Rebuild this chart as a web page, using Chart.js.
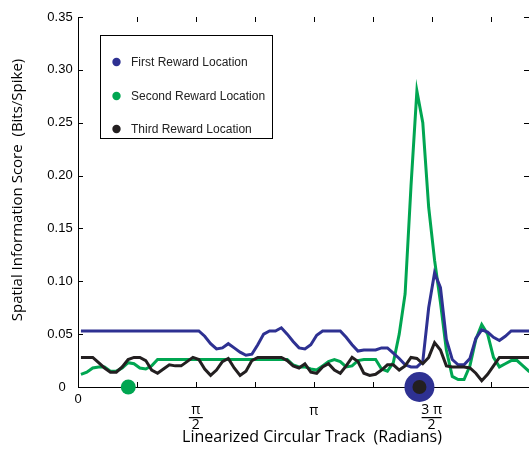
<!DOCTYPE html>
<html>
<head>
<meta charset="utf-8">
<script src="https://cdn.jsdelivr.net/npm/chart.js@4.4.0/dist/chart.umd.min.js"></script>
<style>
	html, body { margin: 0; padding: 0; background: #fff; overflow: hidden; }
	#wrap { width: 529px; height: 449px; }
</style>
</head>
<body>
<div id="wrap"><canvas id="si-chart" width="529" height="449"></canvas></div>
<script>
	'use strict';

	// 80 angular bins over the circular track (0 .. 2 pi)
	var binCount = 80;
	var xMax = 6.01;

	var seriesLabels = ['First Reward Location', 'Second Reward Location', 'Third Reward Location'];
	var seriesColors = ['#2E3192', '#00A651', '#231F20'];

	var firstReward = [
		0.053, 0.053, 0.053, 0.053, 0.053, 0.053, 0.053, 0.053, 0.053, 0.053,
		0.053, 0.053, 0.053, 0.053, 0.053, 0.053, 0.053, 0.053, 0.053, 0.053,
		0.053, 0.048, 0.041, 0.036, 0.037, 0.041, 0.037, 0.033, 0.030, 0.031,
		0.040, 0.050, 0.053, 0.053, 0.056, 0.050, 0.043, 0.037, 0.036, 0.040,
		0.049, 0.053, 0.053, 0.053, 0.053, 0.047, 0.040, 0.034, 0.035, 0.035,
		0.035, 0.037, 0.037, 0.032, 0.027, 0.021, 0.019, 0.019, 0.024, 0.075,
		0.108, 0.094, 0.045, 0.026, 0.021, 0.021, 0.027, 0.046, 0.054, 0.052,
		0.047, 0.044, 0.048, 0.053, 0.053, 0.053, 0.053, 0.053, 0.053, 0.053
	];
	var secondReward = [
		0.012, 0.014, 0.018, 0.019, 0.019, 0.015, 0.015, 0.018, 0.023, 0.022,
		0.018, 0.017, 0.020, 0.026, 0.026, 0.026, 0.026, 0.026, 0.026, 0.026,
		0.026, 0.026, 0.026, 0.026, 0.026, 0.026, 0.026, 0.026, 0.026, 0.026,
		0.026, 0.026, 0.026, 0.026, 0.026, 0.026, 0.021, 0.019, 0.019, 0.017,
		0.016, 0.020, 0.024, 0.026, 0.024, 0.019, 0.020, 0.025, 0.026, 0.026,
		0.026, 0.017, 0.015, 0.023, 0.050, 0.088, 0.190, 0.280, 0.250, 0.170,
		0.120, 0.080, 0.035, 0.010, 0.007, 0.007, 0.020, 0.045, 0.059, 0.050,
		0.028, 0.019, 0.022, 0.025, 0.025, 0.020, 0.015, 0.012, 0.012, 0.012
	];
	var thirdReward = [
		0.028, 0.028, 0.028, 0.023, 0.018, 0.014, 0.014, 0.019, 0.026, 0.028,
		0.028, 0.025, 0.016, 0.013, 0.017, 0.021, 0.020, 0.020, 0.024, 0.028,
		0.026, 0.017, 0.011, 0.016, 0.024, 0.027, 0.018, 0.011, 0.015, 0.025,
		0.028, 0.028, 0.028, 0.028, 0.028, 0.025, 0.020, 0.018, 0.022, 0.014,
		0.013, 0.019, 0.022, 0.016, 0.013, 0.020, 0.028, 0.024, 0.013, 0.011,
		0.012, 0.016, 0.021, 0.021, 0.016, 0.020, 0.028, 0.027, 0.022, 0.028,
		0.042, 0.035, 0.020, 0.019, 0.019, 0.019, 0.018, 0.013, 0.006, 0.012,
		0.020, 0.028, 0.028, 0.028, 0.028, 0.028, 0.028, 0.028, 0.028, 0.028
	];

	// where each reward sat on the track (radians), and marker size
	var rewardAngles = [4.55, 0.67, 4.55];
	var rewardRadius = [15, 7.5, 7];

	var yTicks = [0, 0.05, 0.10, 0.15, 0.20, 0.25, 0.30, 0.35];
	var xTickValues = [0, Math.PI / 2, Math.PI, 3 * Math.PI / 2];
	var xTickNumerators = ['0', 'π', 'π', '3 π'];
	var xTickDenominators = ['', '2', '', '2'];

	var tickFont = '13px "Liberation Sans", Arial, sans-serif';

	function toPoints(values) {
		var binWidth = 2 * Math.PI / binCount;
		return values.map(function (v, i) {
			return { x: (i + 0.5) * binWidth, y: v };
		});
	}

	var lineSets = [firstReward, secondReward, thirdReward].map(function (values, k) {
		return {
			label: seriesLabels[k],
			data: toPoints(values),
			borderColor: seriesColors[k],
			borderWidth: 3,
			pointRadius: 0,
			tension: 0,
			fill: false,
			order: [2, 3, 1][k]
		};
	});

	// big blue, green, then small black on top
	var markerSets = [0, 1, 2].map(function (k) {
		return {
			type: 'scatter',
			label: seriesLabels[k] + ' marker',
			data: [{ x: rewardAngles[k], y: 0 }],
			pointRadius: rewardRadius[k],
			pointBackgroundColor: seriesColors[k],
			pointBorderWidth: 0,
			showLine: false,
			clip: false,
			order: k === 2 ? -2 : -1
		};
	});

	var framePlugin = {
		id: 'frame',
		beforeDatasetsDraw: function (chart) {
			var ctx = chart.ctx;
			var area = chart.chartArea;
			var xs = chart.scales.x;
			var ys = chart.scales.y;
			ctx.save();
			ctx.strokeStyle = '#000';
			ctx.lineWidth = 1;
			ctx.beginPath();
			for (var q = 0; q * Math.PI / 4 <= xMax; q++) {
				var px = Math.round(xs.getPixelForValue(q * Math.PI / 4)) + 0.5;
				ctx.moveTo(px, area.bottom);
				ctx.lineTo(px, area.bottom - 5);
				ctx.moveTo(px, area.top);
				ctx.lineTo(px, area.top + 5);
			}
			yTicks.forEach(function (v) {
				var py = Math.round(ys.getPixelForValue(v)) + 0.5;
				ctx.moveTo(area.left, py);
				ctx.lineTo(area.left + 5, py);
				ctx.moveTo(area.right, py);
				ctx.lineTo(area.right - 5, py);
			});
			ctx.stroke();
			ctx.restore();
		},
		afterDatasetsDraw: function (chart) {
			var ctx = chart.ctx;
			var area = chart.chartArea;
			var xs = chart.scales.x;
			var ys = chart.scales.y;
			ctx.save();
			ctx.fillStyle = '#000';

			// y tick labels
			ctx.font = tickFont;
			ctx.textAlign = 'center';
			ctx.textBaseline = 'middle';
			yTicks.forEach(function (v) {
				var label = v === 0 ? '0' : v.toFixed(2);
				ctx.fillText(label, v === 0 ? 62 : 60, ys.getPixelForValue(v));
			});

			// x tick labels, pi fractions
			xTickValues.forEach(function (v, i) {
				var px = xs.getPixelForValue(v);
				if (i === 0) {
					ctx.font = tickFont;
					ctx.fillText(xTickNumerators[i], px, area.bottom + 12);
					return;
				}
				ctx.font = '14px "Open Sans", sans-serif';
				if (xTickDenominators[i]) {
					ctx.fillText(xTickNumerators[i], px, area.bottom + 23);
					var half = xTickNumerators[i].length > 1 ? 10 : 7;
					ctx.fillRect(px - half, area.bottom + 30, half * 2, 1.2);
					ctx.fillText(xTickDenominators[i], px, area.bottom + 38);
				} else {
					ctx.fillText(xTickNumerators[i], px, area.bottom + 24);
				}
			});

			// axis titles
			ctx.font = '16px "Open Sans", "Noto Sans", sans-serif';
			ctx.fillText('Linearized Circular Track  (Radians)', 312, 437);
			ctx.save();
			ctx.translate(18, 190);
			ctx.rotate(-Math.PI / 2);
			ctx.font = '15px "Open Sans", "Noto Sans", sans-serif';
			ctx.fillText('Spatial Information Score  (Bits/Spike)', 0, 0);
			ctx.restore();

			// legend box
			ctx.fillStyle = '#fff';
			ctx.fillRect(100, 35, 172, 103);
			ctx.strokeStyle = '#000';
			ctx.lineWidth = 1;
			ctx.strokeRect(100.5, 35.5, 172, 103);
			ctx.font = '12px "Liberation Sans", Arial, sans-serif';
			ctx.textAlign = 'left';
			var rows = [62, 96, 129];
			seriesLabels.forEach(function (label, k) {
				ctx.fillStyle = seriesColors[k];
				ctx.beginPath();
				ctx.arc(116.5, rows[k], 4.2, 0, 2 * Math.PI);
				ctx.fill();
				ctx.fillStyle = '#222';
				ctx.fillText(label, 131, rows[k] + 0.5);
			});
			ctx.restore();
		}
	};

	new Chart(document.getElementById('si-chart'), {
		type: 'line',
		data: {
			datasets: lineSets.concat(markerSets)
		},
		options: {
			responsive: false,
			animation: false,
			layout: {
				autoPadding: false,
				padding: { top: 17, right: 0, bottom: 0, left: 0 }
			},
			plugins: {
				legend: { display: false },
				tooltip: { enabled: false }
			},
			scales: {
				x: {
					type: 'linear',
					min: 0,
					max: xMax,
					grid: { display: false },
					border: { display: true, color: '#000', width: 1 },
					ticks: { display: false },
					afterFit: function (scale) {
						scale.height = 62;
					}
				},
				y: {
					min: 0,
					max: 0.35,
					grid: { display: false },
					border: { display: true, color: '#000', width: 1 },
					ticks: { display: false, stepSize: 0.05 },
					afterFit: function (scale) {
						scale.width = 78;
					}
				}
			}
		},
		plugins: [framePlugin]
	});
</script>
</body>
</html>
